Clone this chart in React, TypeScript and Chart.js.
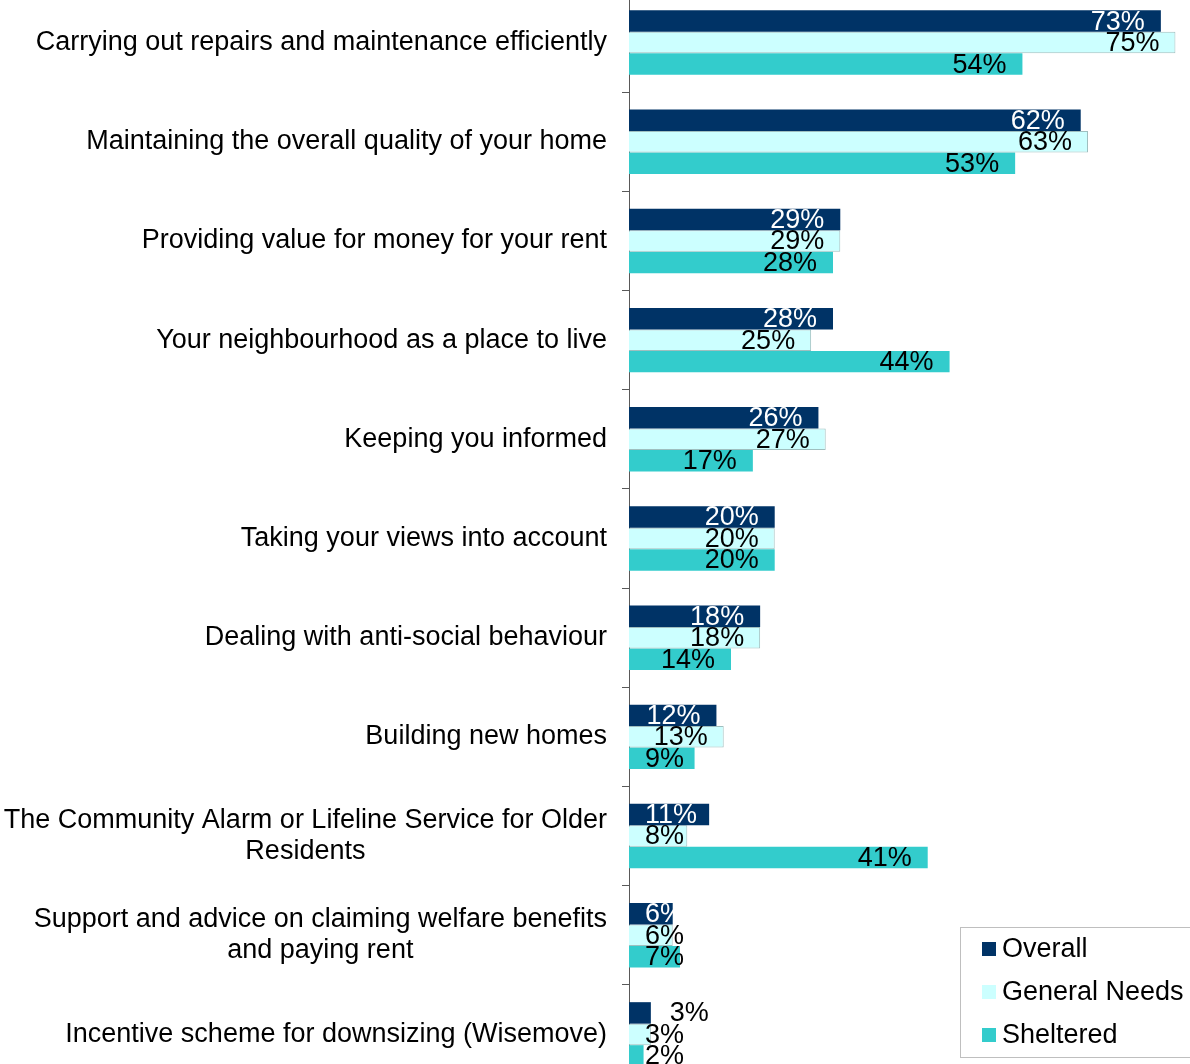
import React, { useEffect, useRef } from 'react';
import { Chart, registerables } from 'chart.js';

Chart.register(...registerables);

const categories: (string | string[])[] = [
  'Carrying out repairs and maintenance efficiently',
  'Maintaining the overall quality of your home',
  'Providing value for money for your rent',
  'Your neighbourhood as a place to live',
  'Keeping you informed',
  'Taking your views into account',
  'Dealing with anti-social behaviour',
  'Building new homes',
  ['The Community Alarm or Lifeline Service for Older', 'Residents'],
  ['Support and advice on claiming welfare benefits', 'and paying rent'],
  'Incentive scheme for downsizing (Wisemove)',
];
const overall = [73, 62, 29, 28, 26, 20, 18, 12, 11, 6, 3];
const generalNeeds = [75, 63, 29, 25, 27, 20, 18, 13, 8, 6, 3];
const sheltered = [54, 53, 28, 44, 17, 20, 14, 9, 41, 7, 2];
const seriesNames = ['Overall', 'General Needs', 'Sheltered'];
const seriesColors = ['#003366', '#CCFFFF', '#33CCCC'];
const seriesBorders = ['#003366', '#9fbfbf', '#33CCCC'];
const xMax = 77;

const FONT = '"Liberation Sans", Arial, sans-serif';
const FONT_SIZE = 27;
const CANVAS_TOP = -7;
const CANVAS_H = 1091;

const labelsPlugin = {
  id: 'customLabels',
  afterDatasetsDraw(chart: any) {
    const ctx = chart.ctx as CanvasRenderingContext2D;
    const yScale = chart.scales.y;
    const area = chart.chartArea;
    ctx.save();
    // category labels
    ctx.font = `${FONT_SIZE}px ${FONT}`;
    ctx.fillStyle = '#000';
    ctx.textBaseline = 'middle';
    ctx.textAlign = 'center';
    categories.forEach((c, i) => {
      const lines = Array.isArray(c) ? c : [c];
      const cy = yScale.getPixelForValue(i);
      const lh = 31;
      const maxW = Math.max(...lines.map((l) => ctx.measureText(l).width));
      const right = area.left - 22;
      lines.forEach((l, j) => {
        const ly = cy + (j - (lines.length - 1) / 2) * lh;
        ctx.fillText(l, right - maxW / 2, ly);
      });
    });
    // value labels
    ctx.textAlign = 'left';
    chart.data.datasets.forEach((ds: any, di: number) => {
      const meta = chart.getDatasetMeta(di);
      meta.data.forEach((bar: any, i: number) => {
        const v = ds.data[i];
        const txt = v + '%';
        const w = ctx.measureText(txt).width;
        const base = area.left;
        const end = bar.x;
        let x = end - 16 - w;
        let color = di === 0 ? '#fff' : '#000';
        if (di === 0 && end - base < w) {
          x = end + 19;
          color = '#000';
        } else if (x < base + 16) {
          x = base + 16;
        }
        ctx.fillStyle = color;
        ctx.fillText(txt, x, bar.y + 1);
      });
    });
    ctx.restore();
  },
  afterDraw(chart: any) {
    const ctx = chart.ctx as CanvasRenderingContext2D;
    ctx.save();
    const bx = 960.5;
    const by = 927.5 - CANVAS_TOP;
    ctx.fillStyle = '#fff';
    ctx.fillRect(bx, by, 260, 130);
    ctx.strokeStyle = '#bfbfbf';
    ctx.lineWidth = 1;
    ctx.strokeRect(bx, by, 260, 130);
    ctx.font = `${FONT_SIZE}px ${FONT}`;
    ctx.textBaseline = 'middle';
    ctx.textAlign = 'left';
    const rows = [949, 992, 1035];
    seriesNames.forEach((name, i) => {
      const ry = rows[i] - CANVAS_TOP;
      ctx.fillStyle = seriesColors[i];
      ctx.fillRect(982, ry - 7, 14, 14);
      ctx.fillStyle = '#000';
      ctx.fillText(name, 1002, ry + 1);
    });
    ctx.restore();
  },
};

export default function App() {
  const ref = useRef<HTMLCanvasElement>(null);
  useEffect(() => {
    if (!ref.current) return;
    const chart = new Chart(ref.current, {
      type: 'bar',
      data: {
        labels: categories as any,
        datasets: [overall, generalNeeds, sheltered].map((d, i) => ({
          label: seriesNames[i],
          data: d,
          backgroundColor: seriesColors[i],
          borderColor: seriesBorders[i],
          borderWidth: i === 1 ? 1 : 0,
          borderSkipped: 'start',
          barPercentage: 1,
          categoryPercentage: 0.65,
        })),
      },
      options: {
        indexAxis: 'y',
        responsive: false,
        animation: false,
        layout: { padding: 0 },
        plugins: {
          legend: { display: false },
          tooltip: { enabled: false },
        },
        scales: {
          x: { min: 0, max: xMax, display: false },
          y: {
            type: 'category',
            afterFit: (s: any) => {
              s.width = 629;
            },
            ticks: { display: false },
            grid: {
              drawOnChartArea: false,
              drawTicks: true,
              tickLength: 7,
              color: '#595959',
              offset: true,
            },
            border: { display: true, color: '#595959', width: 1 },
          },
        },
      } as any,
      plugins: [labelsPlugin],
    });
    return () => chart.destroy();
  }, []);
  return (
    <div
      style={{
        position: 'fixed',
        left: 0,
        top: 0,
        width: 1190,
        height: 1064,
        overflow: 'hidden',
        background: '#fff',
      }}
    >
      <canvas
        ref={ref}
        width={1190}
        height={CANVAS_H}
        style={{ position: 'absolute', left: 0, top: CANVAS_TOP, width: 1190, height: CANVAS_H }}
      />
    </div>
  );
}
